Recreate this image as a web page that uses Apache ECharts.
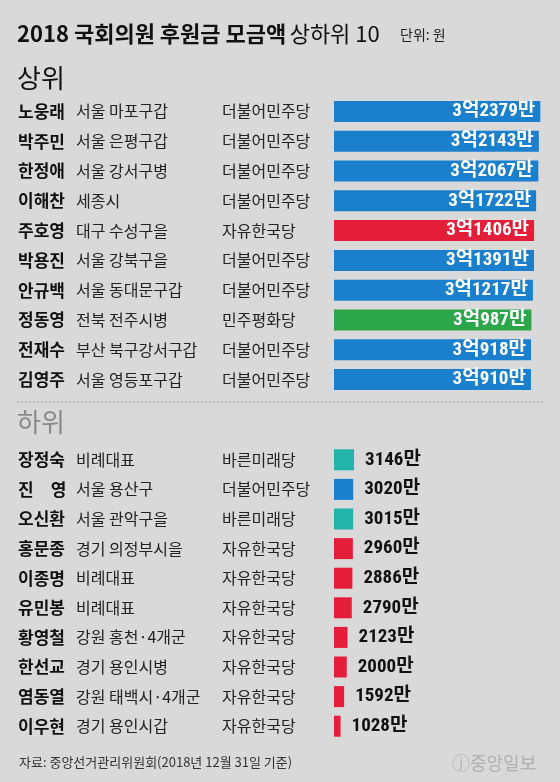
<!DOCTYPE html>
<html><head><meta charset="utf-8">
<script src="https://cdn.jsdelivr.net/npm/echarts@6/dist/echarts.min.js"></script>
<style>html,body{margin:0;padding:0;background:#d9d9d9}#c{width:560px;height:782px}</style>
</head><body><div id="c"></div>
<script>
var topNames = ['노웅래','박주민','한정애','이해찬','주호영','박용진','안규백','정동영','전재수','김영주'];
var topRegions = ['서울 마포구갑','서울 은평구갑','서울 강서구병','세종시','대구 수성구을','서울 강북구을','서울 동대문구갑','전북 전주시병','부산 북구강서구갑','서울 영등포구갑'];
var topParties = ['더불어민주당','더불어민주당','더불어민주당','더불어민주당','자유한국당','더불어민주당','더불어민주당','민주평화당','더불어민주당','더불어민주당'];
var topValues = [32379,32143,32067,31722,31406,31391,31217,30987,30918,30910]; // 만원

var bottomNames = ['장정숙','진 영','오신환','홍문종','이종명','유민봉','황영철','한선교','염동열','이우현'];
var bottomRegions = ['비례대표','서울 용산구','서울 관악구을','경기 의정부시을','비례대표','비례대표','강원 홍천·4개군','경기 용인시병','강원 태백시·4개군','경기 용인시갑'];
var bottomParties = ['바른미래당','더불어민주당','바른미래당','자유한국당','자유한국당','자유한국당','자유한국당','자유한국당','자유한국당','자유한국당'];
var bottomValues = [3146,3020,3015,2960,2886,2790,2123,2000,1592,1028]; // 만원

var partyColors = {'더불어민주당':'#1a7fcc','자유한국당':'#e41e38','민주평화당':'#2ba64a','바른미래당':'#22b4aa'};
var FONT = "'Noto Sans CJK KR','Noto Sans',sans-serif";
var NUMFONT = "'Roboto Condensed','Liberation Sans Narrow','Noto Sans CJK KR',sans-serif";

function cats(names, regions, parties){
  return names.map(function(n,i){ return n + '|' + regions[i] + '|' + parties[i]; });
}
function fmtTop(v){ return Math.floor(v/10000) + '억' + (v % 10000) + '만'; }
function fmtBottom(v){ return v + '만'; }
function barData(values, parties){
  return values.map(function(v,i){ return {value:v, itemStyle:{color:partyColors[parties[i]]}}; });
}
var yLabel = {
  align:'left', margin:316,
  formatter:function(v){
    var p = v.split('|');
    return '{n|' + p[0].replace(' ', '\u3000') + '}{r|' + p[1] + '}{p|' + p[2] + '}';
  },
  rich:{
    n:{width:58, fontSize:17, fontWeight:'bold', color:'#111', fontFamily:FONT},
    r:{width:146, fontSize:16, color:'#222', fontFamily:FONT},
    p:{fontSize:16, color:'#222', fontFamily:FONT}
  }
};
var chart = echarts.init(document.getElementById('c'));
chart.setOption({
  backgroundColor:'#d9d9d9',
  textStyle:{fontFamily:FONT},
  animation:false,
  grid:[
    {left:334, width:223, top:96.5, height:298},
    {left:334, width:223, top:445, height:296}
  ],
  xAxis:[
    {gridIndex:0, type:'value', min:0, max:35000, show:false},
    {gridIndex:1, type:'value', min:0, max:35000, show:false}
  ],
  yAxis:[
    {gridIndex:0, type:'category', inverse:true, data:cats(topNames,topRegions,topParties),
     axisLine:{show:false}, axisTick:{show:false}, splitLine:{show:false}, axisLabel:yLabel},
    {gridIndex:1, type:'category', inverse:true, data:cats(bottomNames,bottomRegions,bottomParties),
     axisLine:{show:false}, axisTick:{show:false}, splitLine:{show:false}, axisLabel:yLabel}
  ],
  series:[
    {type:'bar', xAxisIndex:0, yAxisIndex:0, barWidth:21, data:barData(topValues,topParties),
     label:{show:true, position:'insideRight', distance:5, color:'#fff', fontSize:19, fontWeight:'bold', fontFamily:NUMFONT,
       formatter:function(p){ return fmtTop(p.value); }}},
    {type:'bar', xAxisIndex:1, yAxisIndex:1, barWidth:21, data:barData(bottomValues,bottomParties),
     label:{show:true, position:'right', distance:11, color:'#111', fontSize:19, fontWeight:'bold', fontFamily:NUMFONT,
       formatter:function(p){ return fmtBottom(p.value); }}}
  ],
  graphic:[
    {type:'text', left:17, top:23, style:{text:'{b|2018 국회의원 후원금 모금액} {n|상하위 10}',
      rich:{b:{fontSize:22, fontWeight:'bold', fill:'#111', fontFamily:FONT}, n:{fontSize:22, fill:'#111', fontFamily:FONT}}}},
    {type:'text', left:400, top:28, style:{text:'단위: 원', fontSize:14, fill:'#222', fontFamily:FONT}},
    {type:'text', left:17, top:65, style:{text:'상위', fontSize:26, fill:'#111', fontFamily:FONT}},
    {type:'line', shape:{x1:17, y1:402, x2:543, y2:402}, style:{stroke:'#9a9a9a', lineWidth:1, lineDash:[2,2]}},
    {type:'text', left:17, top:409, style:{text:'하위', fontSize:26, fill:'#8a8a8a', fontFamily:FONT}},
    {type:'text', left:19, top:756, style:{text:'자료: 중앙선거관리위원회(2018년 12월 31일 기준)', fontSize:13, fill:'#333', fontFamily:FONT}},
    {type:'text', left:452, top:754, style:{text:'\u24D9중앙일보', fontSize:18, fill:'#b0b0b0', fontFamily:FONT}}
  ]
});
</script></body></html>
